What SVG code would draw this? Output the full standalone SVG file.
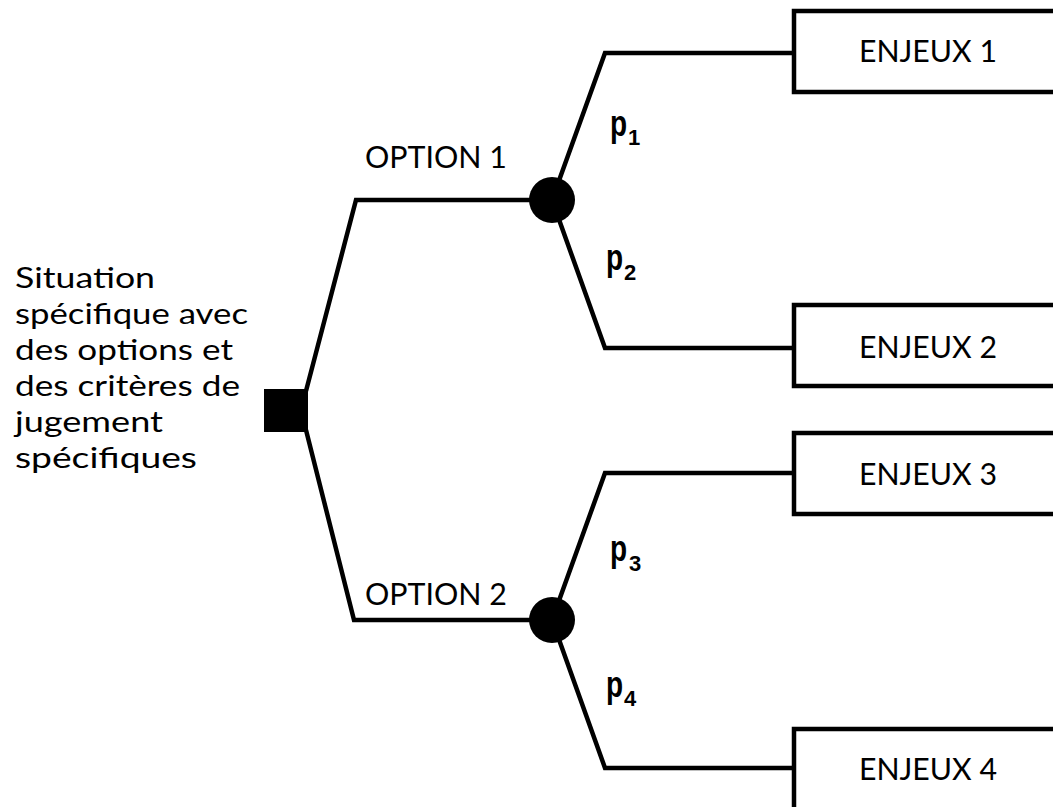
<svg xmlns="http://www.w3.org/2000/svg" width="1053" height="807" viewBox="0 0 1053 807">
<style>
.ln{fill:none;stroke:#000;stroke-width:4.5;stroke-linejoin:miter}
.box{fill:#fff;stroke:#000;stroke-width:4.5}
.t{font-family:Lato,"Open Sans",sans-serif;font-size:30px;fill:#000}
.lt{font-family:Lato,"Open Sans",sans-serif;font-size:29.8px;fill:#000}
.p{font-family:"Liberation Sans",Arial,sans-serif;font-weight:bold;font-size:28px;fill:#000}
.s{font-family:"Liberation Sans",Arial,sans-serif;font-weight:bold;font-size:22px;fill:#000}
</style>
<rect width="1053" height="807" fill="#fff"/>
<g id="connectors">
<polyline class="ln" points="306,391 356,200 552,200"/>
<polyline class="ln" points="306,430 354,620 552,620"/>
<polyline class="ln" points="552,200 605,53 794,53"/>
<polyline class="ln" points="552,200 605,348 794,348"/>
<polyline class="ln" points="552,620 605,473 794,473"/>
<polyline class="ln" points="552,620 605,768 794,768"/>
</g>
<g id="situation">
<rect x="264" y="389" width="44" height="43" fill="#000"/>
<text class="lt" x="15" y="288" textLength="140" lengthAdjust="spacingAndGlyphs">Situation</text>
<text class="lt" x="15" y="324" textLength="233" lengthAdjust="spacingAndGlyphs">spécifique avec</text>
<text class="lt" x="15" y="360" textLength="218" lengthAdjust="spacingAndGlyphs">des options et</text>
<text class="lt" x="15" y="396" textLength="225" lengthAdjust="spacingAndGlyphs">des critères de</text>
<text class="lt" x="15" y="432" textLength="148" lengthAdjust="spacingAndGlyphs">jugement</text>
<text class="lt" x="15" y="468" textLength="182" lengthAdjust="spacingAndGlyphs">spécifiques</text>
</g>
<g id="option1">
<text class="t" x="365" y="168" textLength="142" lengthAdjust="spacingAndGlyphs">OPTION 1</text>
</g>
<g id="option2">
<text class="t" x="365" y="605" textLength="142" lengthAdjust="spacingAndGlyphs">OPTION 2</text>
</g>
<g id="chance1">
<circle cx="552" cy="200" r="23" fill="#000"/>
<text class="p" transform="translate(610,136) scale(1,1.3)">p</text>
<text class="s" x="628" y="145">1</text>
<text class="p" transform="translate(606,270) scale(1,1.3)">p</text>
<text class="s" x="624" y="280">2</text>
</g>
<g id="chance2">
<circle cx="552" cy="620" r="23" fill="#000"/>
<text class="p" transform="translate(610,561) scale(1,1.3)">p</text>
<text class="s" x="629" y="571">3</text>
<text class="p" transform="translate(606,697) scale(1,1.3)">p</text>
<text class="s" x="624" y="706">4</text>
</g>
<g id="enjeux1">
<rect class="box" x="794" y="11" width="300" height="81"/>
<text class="t" x="859" y="62" textLength="138" lengthAdjust="spacingAndGlyphs">ENJEUX 1</text>
</g>
<g id="enjeux2">
<rect class="box" x="794" y="305" width="300" height="81"/>
<text class="t" x="859" y="358" textLength="138" lengthAdjust="spacingAndGlyphs">ENJEUX 2</text>
</g>
<g id="enjeux3">
<rect class="box" x="794" y="433" width="300" height="81"/>
<text class="t" x="859" y="485" textLength="138" lengthAdjust="spacingAndGlyphs">ENJEUX 3</text>
</g>
<g id="enjeux4">
<rect class="box" x="794" y="729" width="300" height="120"/>
<text class="t" x="859" y="780" textLength="138" lengthAdjust="spacingAndGlyphs">ENJEUX 4</text>
</g>
</svg>
